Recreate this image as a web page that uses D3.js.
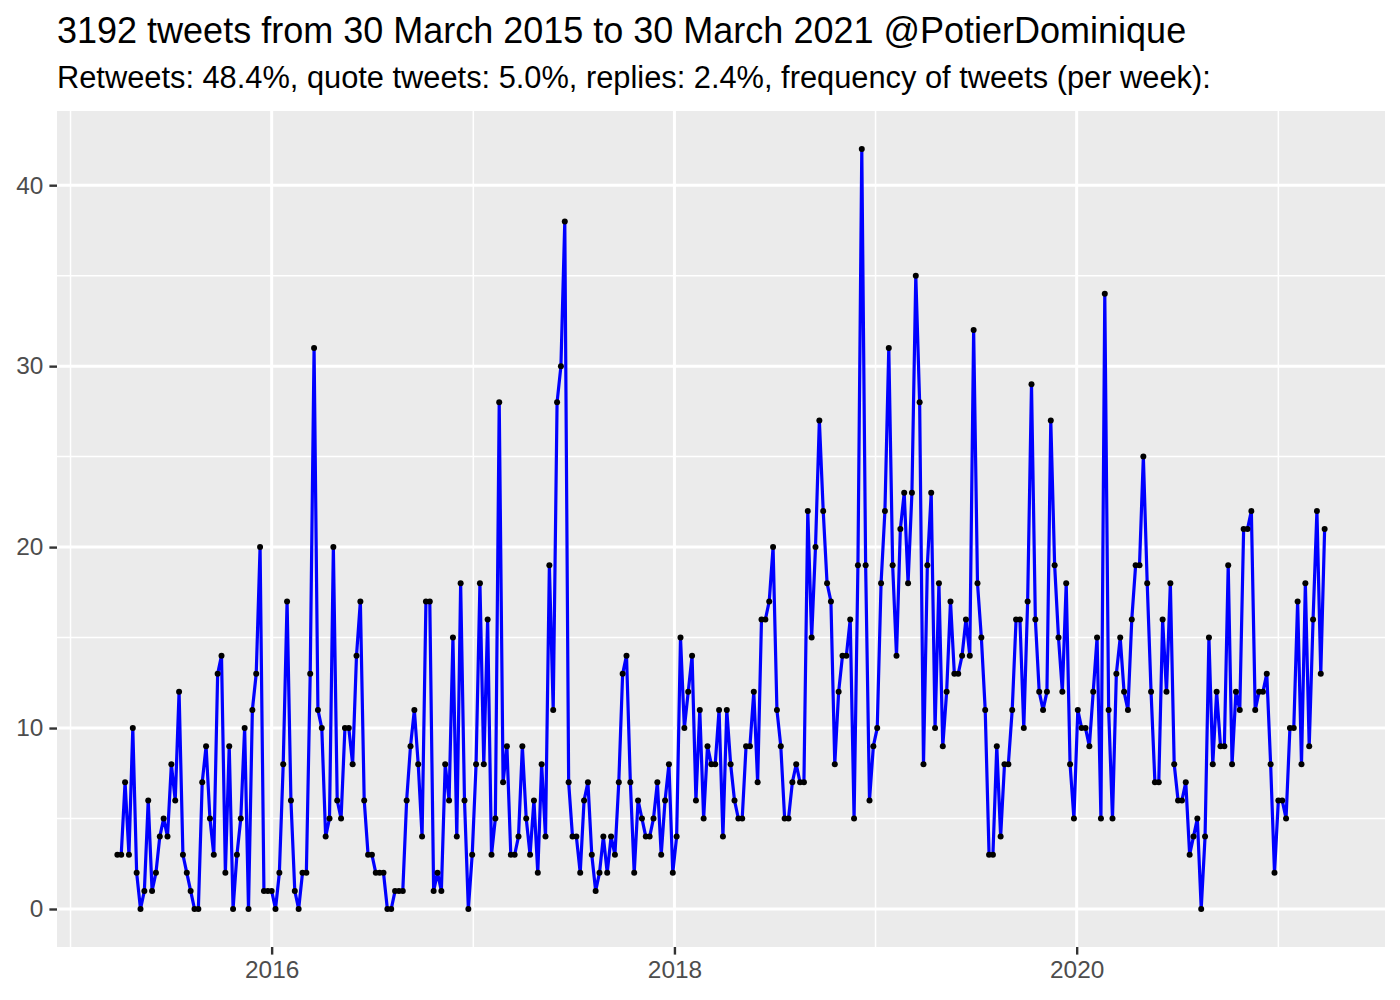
<!DOCTYPE html>
<html>
<head>
<meta charset="utf-8">
<script src="https://cdn.jsdelivr.net/npm/d3@7"></script>
<style>
  body { margin: 0; background: #fff; }
  svg { display: block; font-family: "Liberation Sans", Arial, sans-serif; }
</style>
</head>
<body>
<svg class="chart"></svg>
<script>
const width = 1400;
const height = 1000;

// panel box (ggplot grey theme)
const panelLeft = 57;
const panelRight = 1385;
const panelTop = 111;
const panelBottom = 947;

const title = '3192 tweets from 30 March 2015 to 30 March 2021 @PotierDominique';
const subtitle = 'Retweets: 48.4%, quote tweets: 5.0%, replies: 2.4%, frequency of tweets (per week):';

// tweets per week, one value per week starting at firstWeek
const firstWeek = '2015-03-27';
const weekCounts = [
  3, 3, 7, 3, 10, 2, 0, 1, 6, 1, 2, 4, 5, 4, 8, 6, 12, 3, 2, 1, 0, 0, 7, 9, 5, 3, 13,
  14, 2, 9, 0, 3, 5, 10, 0, 11, 13, 20, 1, 1, 1, 0, 2, 8, 17, 6, 1, 0, 2, 2, 13, 31, 11, 10, 4,
  5, 20, 6, 5, 10, 10, 8, 14, 17, 6, 3, 3, 2, 2, 2, 0, 0, 1, 1, 1, 6, 9, 11, 8, 4, 17, 17, 1, 2,
  1, 8, 6, 15, 4, 18, 6, 0, 3, 8, 18, 8, 16, 3, 5, 28, 7, 9, 3, 3, 4, 9, 5, 3, 6, 2, 8, 4, 19,
  11, 28, 30, 38, 7, 4, 4, 2, 6, 7, 3, 1, 2, 4, 2, 4, 3, 7, 13, 14, 7, 2, 6, 5, 4, 4, 5, 7,
  3, 6, 8, 2, 4, 15, 10, 12, 14, 6, 11, 5, 9, 8, 8, 11, 4, 11, 8, 6, 5, 5, 9, 9, 12, 7, 16, 16, 17,
  20, 11, 9, 5, 5, 7, 8, 7, 7, 22, 15, 20, 27, 22, 18, 17, 8, 12, 14, 14, 16, 5, 19, 42, 19, 6, 9, 10,
  18, 22, 31, 19, 14, 21, 23, 18, 23, 35, 28, 8, 19, 23, 10, 18, 9, 12, 17, 13, 13, 14, 16, 14, 32, 18, 15, 11, 3,
  3, 9, 4, 8, 8, 11, 16, 16, 10, 17, 29, 16, 12, 11, 12, 27, 19, 15, 12, 18, 8, 5, 11, 10, 10, 9, 12, 15,
  5, 34, 11, 5, 13, 15, 12, 11, 16, 19, 19, 25, 18, 12, 7, 7, 16, 12, 18, 8, 6, 6, 7, 3, 4, 5, 0, 4, 15,
  8, 12, 9, 9, 19, 8, 12, 11, 21, 21, 22, 11, 12, 12, 13, 8, 2, 6, 6, 5, 10, 10, 17, 8, 18, 9, 16, 22, 13, 21
];

const yTicks = [0, 10, 20, 30, 40];
const yMinor = [5, 15, 25, 35];
const xTickYears = [2016, 2018, 2020];
const xMinorYears = [2015, 2017, 2019, 2021];

const startDate = d3.utcParse('%Y-%m-%d')(firstWeek);
const weeks = weekCounts.map((d, i) => d3.utcDay.offset(startDate, 7 * i));
const data = weekCounts.map((d, i) => ({ date: weeks[i], n: d }));

const svg = d3.select('.chart')
  .attr('width', width)
  .attr('height', height);

svg.append('rect')
  .attr('width', width)
  .attr('height', height)
  .attr('fill', '#fff');

// scales with ggplot's 5% expansion
const [d0, d1] = d3.extent(weeks);
const span = d1 - d0;
const xScale = d3.scaleUtc()
  .domain([new Date(+d0 - 0.05 * span), new Date(+d1 + 0.05 * span)])
  .range([panelLeft, panelRight]);

const maxN = d3.max(weekCounts);
const yScale = d3.scaleLinear()
  .domain([-0.05 * maxN, maxN * 1.05])
  .range([panelBottom, panelTop]);

svg.append('rect')
  .attr('x', panelLeft)
  .attr('y', panelTop)
  .attr('width', panelRight - panelLeft)
  .attr('height', panelBottom - panelTop)
  .attr('fill', '#EBEBEB');

const grid = svg.append('g').attr('stroke', '#fff');

grid.selectAll('.ymin')
  .data(yMinor)
  .enter()
  .append('line')
  .attr('x1', panelLeft).attr('x2', panelRight)
  .attr('y1', d => yScale(d)).attr('y2', d => yScale(d))
  .attr('stroke-width', 1.5);

grid.selectAll('.xmin')
  .data(xMinorYears)
  .enter()
  .append('line')
  .attr('x1', d => xScale(Date.UTC(d, 0, 1))).attr('x2', d => xScale(Date.UTC(d, 0, 1)))
  .attr('y1', panelTop).attr('y2', panelBottom)
  .attr('stroke-width', 1.5);

grid.selectAll('.ymaj')
  .data(yTicks)
  .enter()
  .append('line')
  .attr('x1', panelLeft).attr('x2', panelRight)
  .attr('y1', d => yScale(d)).attr('y2', d => yScale(d))
  .attr('stroke-width', 3);

grid.selectAll('.xmaj')
  .data(xTickYears)
  .enter()
  .append('line')
  .attr('x1', d => xScale(Date.UTC(d, 0, 1))).attr('x2', d => xScale(Date.UTC(d, 0, 1)))
  .attr('y1', panelTop).attr('y2', panelBottom)
  .attr('stroke-width', 3);

// axes
const xAxis = d3.axisBottom(xScale)
  .tickValues(xTickYears.map(d => new Date(Date.UTC(d, 0, 1))))
  .tickFormat(d3.utcFormat('%Y'))
  .tickSize(7.6)
  .tickPadding(6);

const yAxis = d3.axisLeft(yScale)
  .tickValues(yTicks)
  .tickSize(7.6)
  .tickPadding(6);

const bottomAxisGroup = svg.append('g')
  .attr('transform', `translate(0,${panelBottom})`)
  .call(xAxis);

const leftAxisGroup = svg.append('g')
  .attr('transform', `translate(${panelLeft},0)`)
  .call(yAxis);

[bottomAxisGroup, leftAxisGroup].forEach(g => {
  g.select('.domain').remove();
  g.selectAll('line').attr('stroke', '#333333').attr('stroke-width', 2.4);
  g.selectAll('text')
    .attr('fill', '#4D4D4D')
    .style('font-size', '24.4px')
    .style('font-family', '"Liberation Sans", Arial, sans-serif');
});

// line + points
const line = d3.line()
  .x(d => xScale(d.date))
  .y(d => yScale(d.n));

svg.append('path')
  .datum(data)
  .attr('d', line)
  .attr('fill', 'none')
  .attr('stroke', '#0000FF')
  .attr('stroke-width', 3.2)
  .attr('stroke-linejoin', 'round');

svg.selectAll('.pt')
  .data(data)
  .enter()
  .append('circle')
  .attr('cx', d => xScale(d.date))
  .attr('cy', d => yScale(d.n))
  .attr('r', 3)
  .attr('fill', '#000');

// titles
svg.append('text')
  .attr('x', panelLeft)
  .attr('y', 43)
  .style('font-size', '36px')
  .attr('fill', '#000')
  .text(title);

svg.append('text')
  .attr('x', panelLeft)
  .attr('y', 88)
  .style('font-size', '30.8px')
  .attr('fill', '#000')
  .text(subtitle);
</script>
</body>
</html>
